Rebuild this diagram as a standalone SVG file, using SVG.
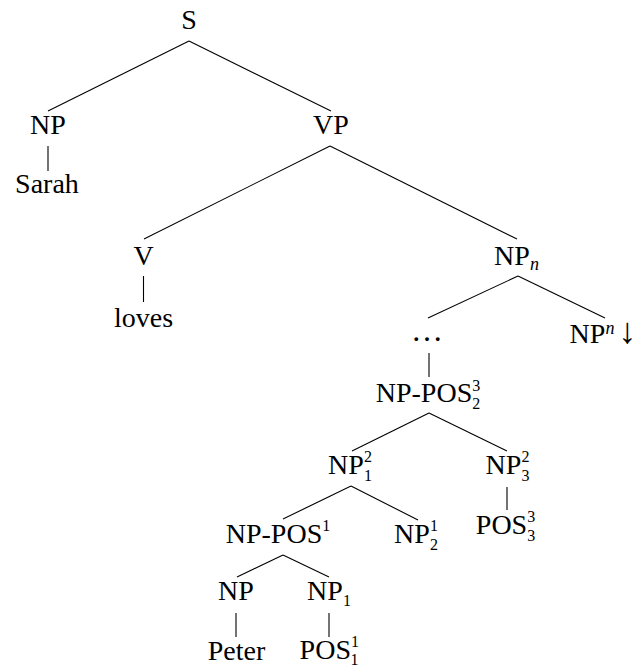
<svg xmlns="http://www.w3.org/2000/svg" width="639" height="666" viewBox="0 0 639 666">
<style>
text{font-family:"Liberation Serif","Times New Roman",serif;font-size:28px;fill:#000;text-anchor:middle}
.s{font-size:16px}
.n{font-size:18px;font-style:italic}
#edges line{stroke:#000;stroke-width:1.1;fill:none}
</style>
<rect width="639" height="666" fill="#fff"/>
<g id="edges">
<line x1="189" y1="41" x2="48" y2="111"/>
<line x1="189" y1="41" x2="331" y2="111"/>
<line x1="48" y1="146" x2="48" y2="171"/>
<line x1="330" y1="146" x2="144" y2="239"/>
<line x1="330" y1="146" x2="517" y2="239"/>
<line x1="143.5" y1="276" x2="143.5" y2="302"/>
<line x1="518" y1="276" x2="428" y2="318"/>
<line x1="518" y1="276" x2="605" y2="318"/>
<line x1="429" y1="353" x2="429" y2="377"/>
<line x1="429" y1="413" x2="352" y2="451"/>
<line x1="429" y1="413" x2="507" y2="451"/>
<line x1="507" y1="487" x2="507" y2="510"/>
<line x1="351" y1="486" x2="283" y2="519"/>
<line x1="351" y1="486" x2="418" y2="520"/>
<line x1="283" y1="555" x2="237" y2="577"/>
<line x1="283" y1="555" x2="329" y2="577"/>
<line x1="236" y1="613" x2="236" y2="637"/>
<line x1="329" y1="613" x2="329" y2="637"/>
</g>
<g id="n-S"><text x="189" y="29">S</text></g>
<g id="n-NP-subj"><text x="48" y="134">NP</text></g>
<g id="n-VP"><text x="331" y="134">VP</text></g>
<g id="n-Sarah"><text x="47" y="193">Sarah</text></g>
<g id="n-V"><text x="143.5" y="265">V</text></g>
<g id="n-NPn"><text x="516.5" y="265">NP<tspan class="n" dy="5">n</tspan></text></g>
<g id="n-loves"><text x="143.5" y="327">loves</text></g>
<g id="n-dots"><text x="427" y="341" style="font-size:32px">…</text></g>
<g id="n-NPn-foot"><text x="603" y="343">NP<tspan class="n" dy="-9">n</tspan><tspan dy="9" dx="4" style="font-size:36px">↓</tspan></text></g>
<g id="n-NPPOS23"><text x="428" y="402">NP-POS<tspan class="s" dy="-11">3</tspan><tspan class="s" dx="-8" dy="18">2</tspan></text></g>
<g id="n-NP12"><text x="350" y="474">NP<tspan class="s" dy="-12">2</tspan><tspan class="s" dx="-8" dy="19">1</tspan></text></g>
<g id="n-NP32"><text x="507.5" y="474">NP<tspan class="s" dy="-12">2</tspan><tspan class="s" dx="-8" dy="19">3</tspan></text></g>
<g id="n-POS33"><text x="505.5" y="534">POS<tspan class="s" dy="-12">3</tspan><tspan class="s" dx="-8" dy="19">3</tspan></text></g>
<g id="n-NPPOS1"><text x="278" y="543">NP-POS<tspan class="s" dy="-12">1</tspan></text></g>
<g id="n-NP21"><text x="416" y="543">NP<tspan class="s" dy="-12">1</tspan><tspan class="s" dx="-8" dy="19">2</tspan></text></g>
<g id="n-NP"><text x="236" y="600">NP</text></g>
<g id="n-NP1"><text x="329" y="600">NP<tspan class="s" dy="6">1</tspan></text></g>
<g id="n-Peter"><text x="236.5" y="660">Peter</text></g>
<g id="n-POS11"><text x="329" y="659">POS<tspan class="s" dy="-12">1</tspan><tspan class="s" dx="-8" dy="18">1</tspan></text></g>
</svg>
